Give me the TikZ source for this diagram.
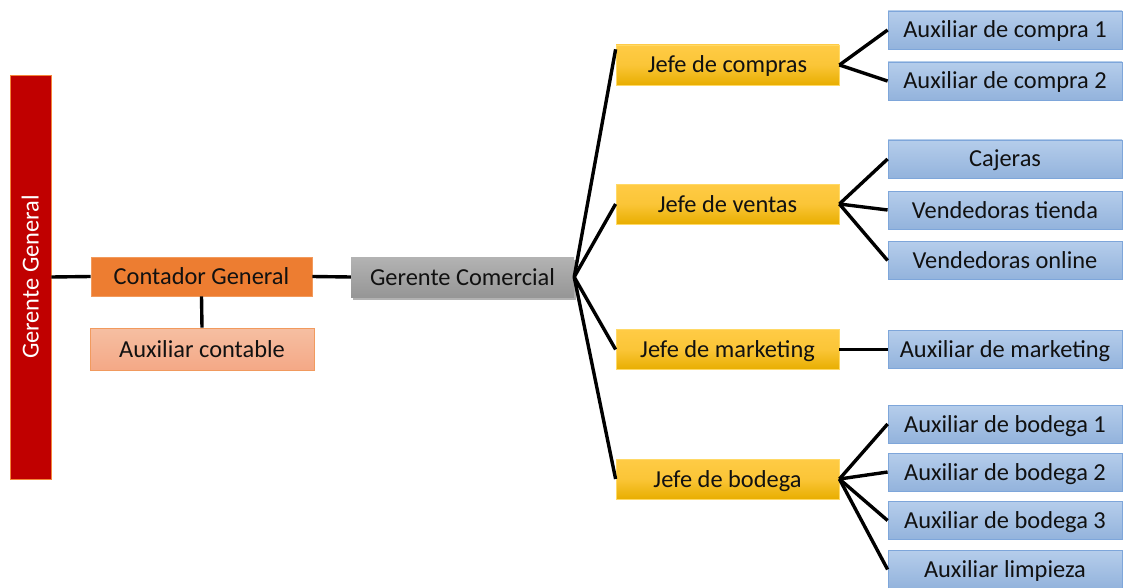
\documentclass[tikz,border=0pt]{standalone}
\usepackage{fontspec}
\setmainfont{Carlito}
\usetikzlibrary{shadows}
\definecolor{ggred}{HTML}{C00000}
\definecolor{ggedge}{HTML}{F4863A}
\definecolor{cgfill}{HTML}{ED7D31}
\definecolor{cgedge}{HTML}{F29A5C}
\definecolor{actop}{HTML}{F6BFA2}
\definecolor{acbot}{HTML}{F4A886}
\definecolor{acedge}{HTML}{F19A5E}
\definecolor{gctop}{HTML}{B3B3B3}
\definecolor{gcbot}{HTML}{969696}
\definecolor{jtop}{HTML}{FFCB45}
\definecolor{jbot}{HTML}{E8AE00}
\definecolor{jedge}{HTML}{FFD966}
\definecolor{atop}{HTML}{B5CDEB}
\definecolor{abot}{HTML}{93B3DC}
\definecolor{aedge}{HTML}{7EA6DA}
\definecolor{ink}{HTML}{111111}
\begin{document}
\begin{tikzpicture}[x=1pt,y=-1pt,
  every node/.style={font=\fontsize{24.4}{28}\selectfont, text=ink, inner sep=0pt,
    text height=21pt, text depth=5pt},
  ggbox/.style={rectangle, fill=ggred, draw=ggedge, line width=0.8pt, text=white,
    rotate=90, minimum width=404pt, minimum height=41pt},
  cgbox/.style={rectangle, fill=cgfill, draw=cgedge, line width=0.8pt,
    minimum width=221pt, minimum height=39pt},
  acbox/.style={rectangle, top color=actop, bottom color=acbot, draw=acedge, line width=0.8pt,
    minimum width=224pt, minimum height=42pt},
  gcbox/.style={rectangle, top color=gctop, bottom color=gcbot, draw=none,
    minimum width=223pt, minimum height=40pt,
    drop shadow={shadow xshift=2pt, shadow yshift=-3pt, opacity=0.3, fill=black}},
  jefebox/.style={rectangle, top color=jtop, bottom color=jbot, middle color=jtop!80!jbot,
    draw=jedge, line width=0.8pt, minimum width=223pt, minimum height=40pt},
  auxbox/.style={rectangle, top color=atop, bottom color=abot, draw=aedge, line width=0.8pt,
    minimum width=234pt, minimum height=38pt},
  link/.style={draw=black, line width=3.4pt}
]
\useasboundingbox (0,0) rectangle (1123,588);

% left branch
\node[ggbox] (gg) at (30.5,277) {Gerente General};
\node[cgbox] (cg) at (201.5,276.5) {Contador General};
\node[acbox] (ac) at (202,349) {Auxiliar contable};
\node[gcbox] (gc) at (462.5,277) {Gerente Comercial};

% department heads
\node[jefebox] (jc) at (727.5,65) {Jefe de compras};
\node[jefebox] (jv) at (727.5,204) {Jefe de ventas};
\node[jefebox] (jm) at (727.5,349.5) {Jefe de marketing};
\node[jefebox] (jb) at (727.5,479) {Jefe de bodega};

% assistants
\node[auxbox] (c1) at (1005,30) {Auxiliar de compra 1};
\node[auxbox] (c2) at (1005,81) {Auxiliar de compra 2};
\node[auxbox] (v1) at (1005,159) {Cajeras};
\node[auxbox] (v2) at (1005,210) {Vendedoras tienda};
\node[auxbox] (v3) at (1005,260.5) {Vendedoras online};
\node[auxbox] (m1) at (1005,349.5) {Auxiliar de marketing};
\node[auxbox] (b1) at (1005,424) {Auxiliar de bodega 1};
\node[auxbox] (b2) at (1005,472) {Auxiliar de bodega 2};
\node[auxbox] (b3) at (1005,520.5) {Auxiliar de bodega 3};
\node[auxbox] (b4) at (1005,569.5) {Auxiliar limpieza};

% connectors
\draw[link] (gg.south) -- (cg.west);
\draw[link] (cg.south) -- (ac.north);
\draw[link] (cg.east) -- (gc.west);

\draw[link] (gc.east) -- (jc.172);
\draw[link] (gc.east) -- (jv.west);
\draw[link] (gc.east) -- (jm.west);
\draw[link] (gc.east) -- (jb.west);

\draw[link] (jc.east) -- (c1.west);
\draw[link] (jc.east) -- (c2.west);
\draw[link] (jv.east) -- (v1.west);
\draw[link] (jv.east) -- (v2.west);
\draw[link] (jv.east) -- (v3.west);
\draw[link] (jm.east) -- (m1.west);
\draw[link] (jb.east) -- (b1.west);
\draw[link] (jb.east) -- (b2.west);
\draw[link] (jb.east) -- (b3.west);
\draw[link] (jb.east) -- (b4.west);
\end{tikzpicture}
\end{document}
